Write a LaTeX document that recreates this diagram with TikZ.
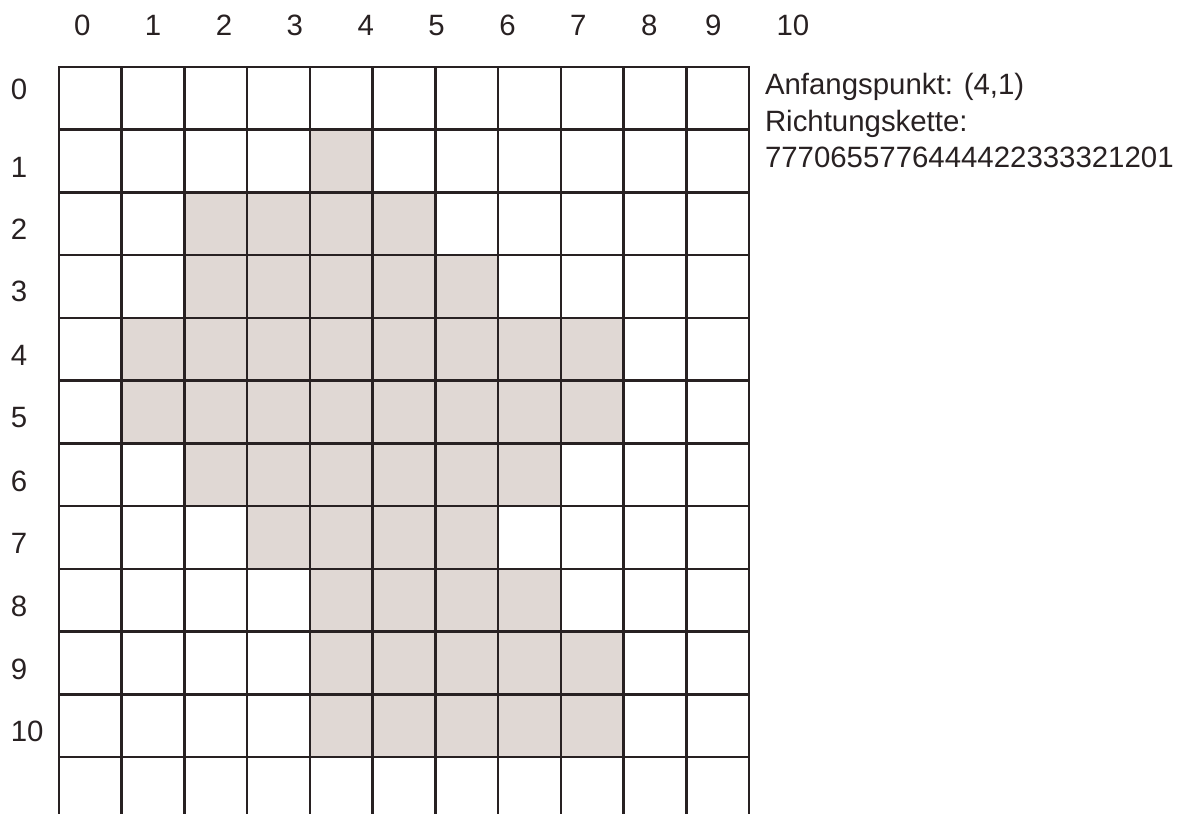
\documentclass[tikz,border=0pt]{standalone}
\usepackage{fontspec}
\setmainfont{Liberation Sans}
\usepackage{tikz}
\usetikzlibrary{positioning}
\definecolor{gridink}{RGB}{40,33,34}
\definecolor{pixelfill}{RGB}{224,216,212}

\begin{document}
\begin{tikzpicture}[
                x=1.5cm, y=-1.5cm,
                gridline/.style={draw=gridink, line width=1.7pt, line cap=rect},
                pixel/.style={fill=pixelfill, draw=none},
                numlabel/.style={inner sep=0pt, anchor=base, text=gridink, font=\fontsize{20}{24}\selectfont},
                info/.style={inner sep=0pt, anchor=base west, text=gridink, font=\fontsize{20}{24}\selectfont}
            ]%
            \useasboundingbox (-0.9405,-1.068) rectangle (17.950,11.908);
            %
            % Gefuellte Pixel (Zeile/erste Spalte/letzte Spalte)
            \foreach \r/\a/\b in {1/4/4, 2/2/5, 3/2/6, 4/1/8, 5/1/8, 6/2/7, 7/3/6, 8/4/7, 9/4/8, 10/4/8}
                \fill[pixel] (\a,\r) rectangle (\b+1,\r+1);
            %
            % Raster
            \foreach \i in {0,...,11}
                \draw[gridline] (0,\i) -- (11,\i);
            \foreach \i in {0,...,11}
                \draw[gridline, line cap=butt] (\i,-0.014) -- (\i,12);
            %
            % Spaltennummern
            \foreach \n/\x in {0/0.37, 1/1.50, 2/2.63, 3/3.76, 4/4.89, 5/6.02, 6/7.15, 7/8.28, 8/9.41, 9/10.43, 10/11.70}
                \node[numlabel] (col\n) at (\x,-0.504) {\n};
            %
            % Zeilennummern
            \foreach \n/\y in {0/0.516, 1/1.766, 2/2.756, 3/3.746, 4/4.756, 5/5.746, 6/6.766, 7/7.756, 8/8.756, 9/9.756, 10/10.756}
                \node[numlabel, anchor=base west] (row\n) at (-0.773,\y) {\n};
            %
            % Kettencode
            \node[info] (start) at (11.25,0.446) {Anfangspunkt: (4,1)};
            \node[info] (chainhead) at (11.25,1.036) {Richtungskette:};
            \node[info] (chain) at (11.25,1.61) {7770655776444422333321201};
        \end{tikzpicture}
\end{document}
